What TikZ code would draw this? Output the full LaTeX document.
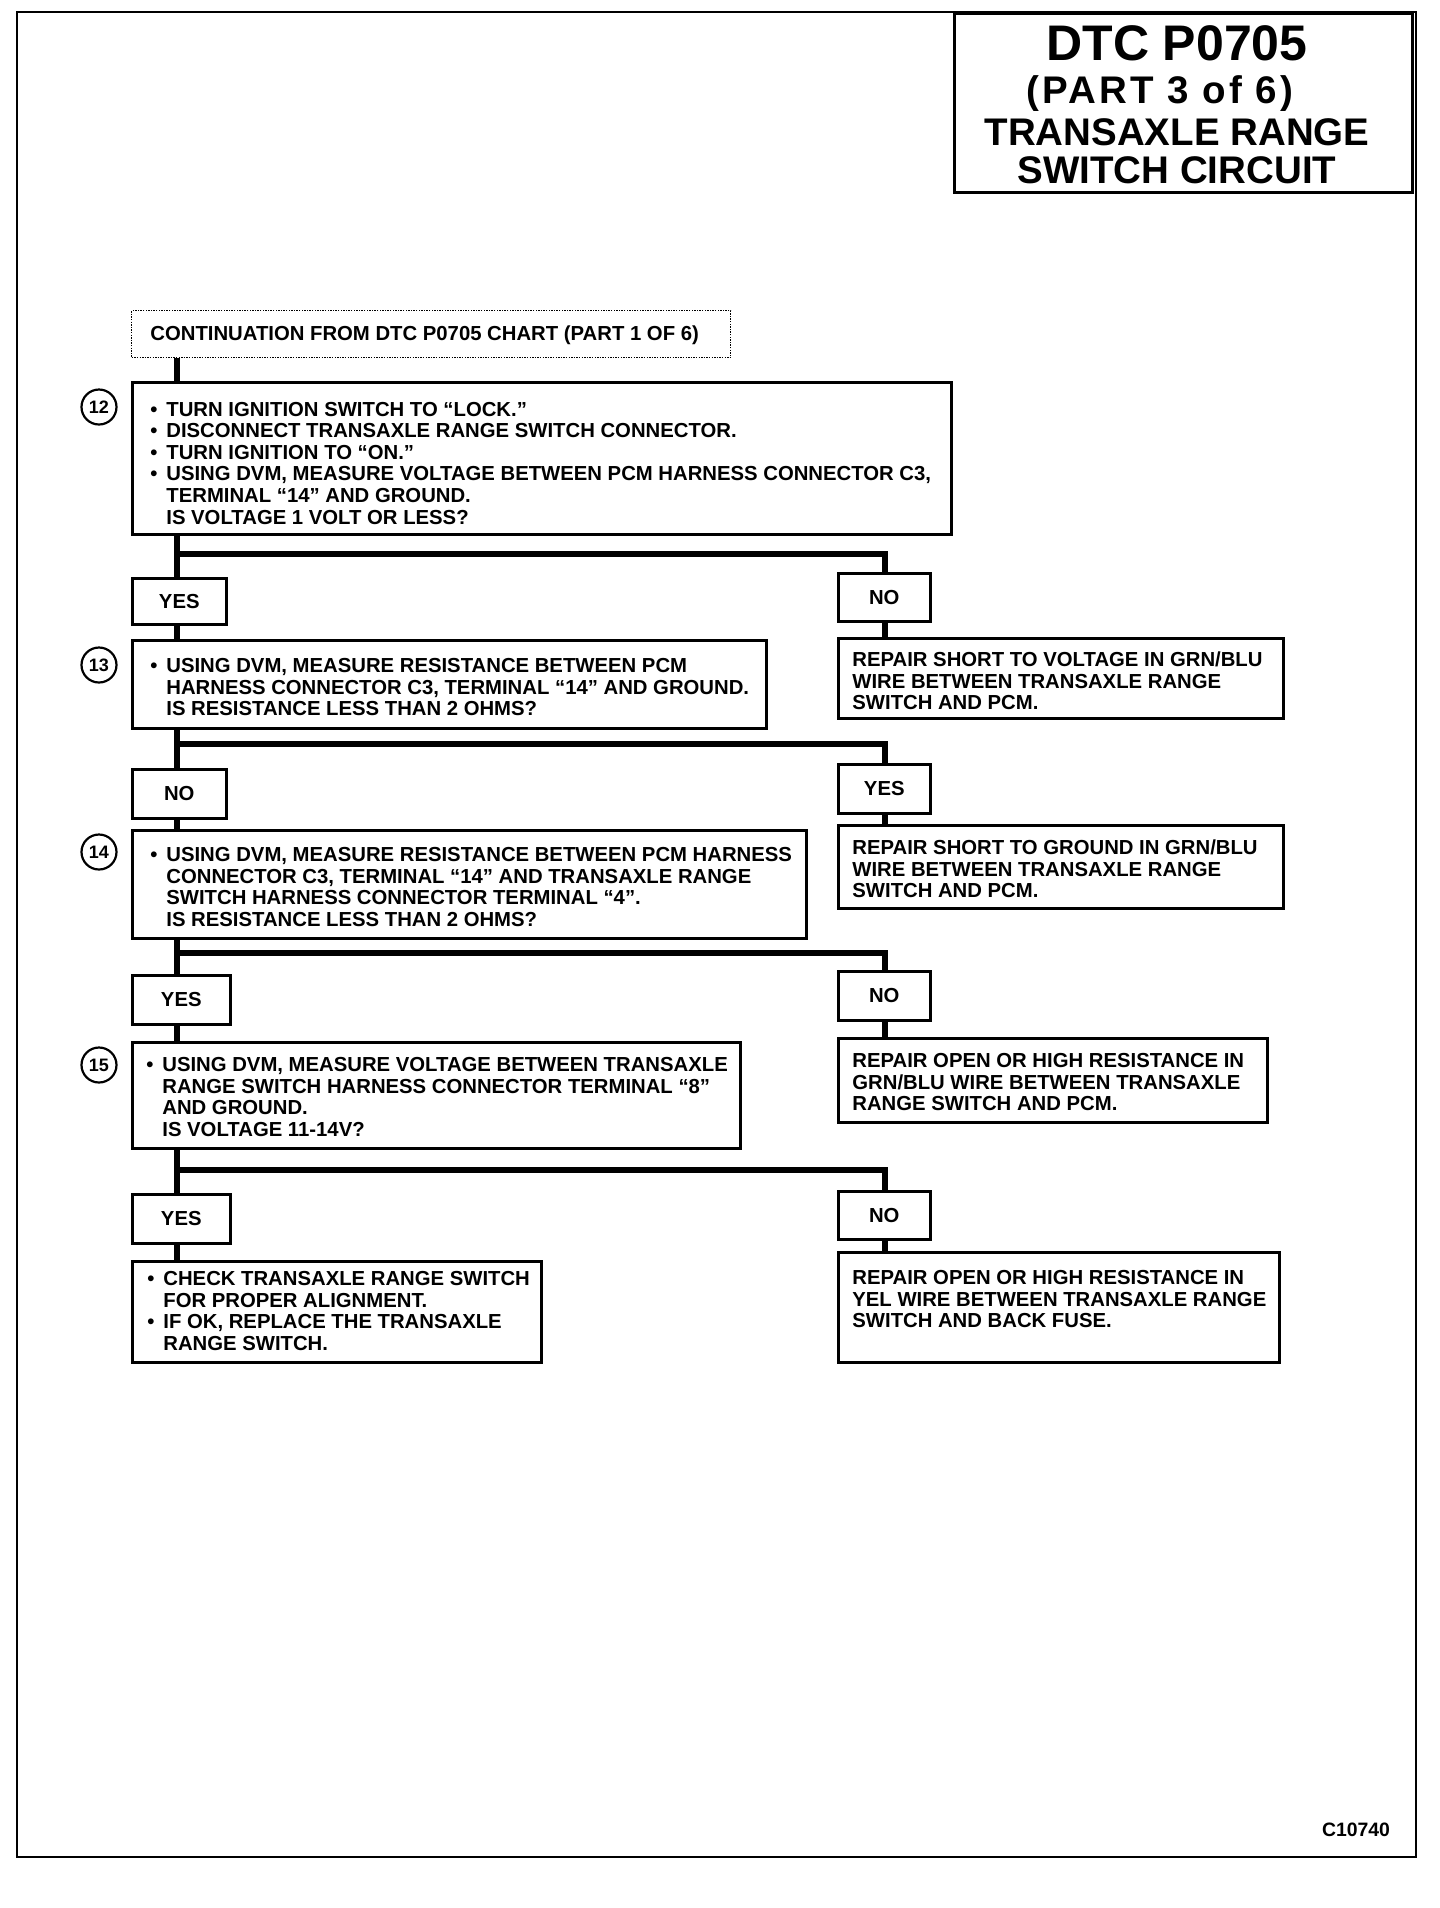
\documentclass[tikz,border=0pt]{standalone}
\usepackage{fontspec}
\setmainfont{Liberation Sans}
\newcommand\bl{\makebox[8pt][l]{\textbullet}}
\newcommand\hg{\hspace*{8pt}}
\begin{document}
\begin{tikzpicture}[x=0.5pt,y=-0.5pt,
  box/.style={draw, line width=1.3pt, rectangle, inner sep=0pt, anchor=north west},
  dotbox/.style={draw, line width=0.7pt, dash pattern=on 0.7pt off 0.6pt, rectangle, inner sep=0pt, anchor=north west},
  conn/.style={line width=3pt},
  txt/.style={anchor=west, align=left, inner sep=0pt, font=\bfseries\fontsize{10.15pt}{10.8pt}\selectfont},
  yn/.style={box, font=\bfseries\fontsize{10.15pt}{10.8pt}\selectfont},
  circ/.style={draw, circle, line width=1.1pt, minimum size=17.5pt, inner sep=0pt, font=\bfseries\fontsize{9pt}{9.5pt}\selectfont},
  ttl/.style={anchor=base, inner sep=0pt, font=\bfseries\fontsize{19.25pt}{20pt}\selectfont}]
\useasboundingbox (0,0) rectangle (1440,1908);
% page border and title
\draw[line width=1.3pt] (17,12) rectangle (1416,1857);
\node[box, minimum width=229pt, minimum height=89.5pt] (tbox) at (953,12) {};
\node[ttl, font=\bfseries\fontsize{25pt}{26pt}\selectfont] (t1) at (1177,60) {DTC P0705};
\node[ttl] (t2) at (1160,103) {\addfontfeature{LetterSpace=8}(PART 3 of 6)};
\node[ttl] (t3) at (1177,145) {TRANSAXLE RANGE};
\node[ttl] (t4) at (1177,183) {SWITCH CIRCUIT};
\node[anchor=base, inner sep=0pt, font=\bfseries\fontsize{9.7pt}{10pt}\selectfont] (code) at (1356,1836) {C10740};
% helper coordinates
\coordinate (mx) at (177,0);
\coordinate (rx) at (885,0);
% continuation
\node[dotbox, minimum width=299.5pt, minimum height=23.5pt] (cont) at (131,310) {};
\node[txt] (contt) at (150,335) {CONTINUATION FROM DTC P0705 CHART (PART 1 OF 6)};
% step 12
\node[box, minimum width=409.5pt, minimum height=76pt] (b12) at (131,381) {};
\node[txt] (b12t) at (150,463) {\bl TURN IGNITION SWITCH TO “LOCK.”\\
\bl DISCONNECT TRANSAXLE RANGE SWITCH CONNECTOR.\\
\bl TURN IGNITION TO “ON.”\\
\bl USING DVM, MEASURE VOLTAGE BETWEEN PCM HARNESS CONNECTOR C3,\\
\hg TERMINAL “14” AND GROUND.\\
\hg IS VOLTAGE 1 VOLT OR LESS?};
\node[circ] (c12) at (99,407) {12};
\node[yn, minimum width=47pt, minimum height=23pt] (yes1) at (131,577) {YES};
\node[yn, minimum width=46pt, minimum height=24pt] (no1) at (837,572) {NO};
\node[box, minimum width=222.5pt, minimum height=40pt] (r1) at (837,637) {};
\node[txt] (r1t) at (852,681) {REPAIR SHORT TO VOLTAGE IN GRN/BLU\\
WIRE BETWEEN TRANSAXLE RANGE\\
SWITCH AND PCM.};
% step 13
\node[box, minimum width=317pt, minimum height=44pt] (b13) at (131,639) {};
\node[txt] (b13t) at (150,687) {\bl USING DVM, MEASURE RESISTANCE BETWEEN PCM\\
\hg HARNESS CONNECTOR C3, TERMINAL “14” AND GROUND.\\
\hg IS RESISTANCE LESS THAN 2 OHMS?};
\node[circ] (c13) at (99,665) {13};
\node[yn, minimum width=47pt, minimum height=24.5pt] (no2) at (131,768) {NO};
\node[yn, minimum width=46pt, minimum height=24.5pt] (yes2) at (837,763) {YES};
\node[box, minimum width=222.5pt, minimum height=41.5pt] (r2) at (837,824) {};
\node[txt] (r2t) at (852,869) {REPAIR SHORT TO GROUND IN GRN/BLU\\
WIRE BETWEEN TRANSAXLE RANGE\\
SWITCH AND PCM.};
% step 14
\node[box, minimum width=337pt, minimum height=54pt] (b14) at (131,829) {};
\node[txt] (b14t) at (150,887) {\bl USING DVM, MEASURE RESISTANCE BETWEEN PCM HARNESS\\
\hg CONNECTOR C3, TERMINAL “14” AND TRANSAXLE RANGE\\
\hg SWITCH HARNESS CONNECTOR TERMINAL “4”.\\
\hg IS RESISTANCE LESS THAN 2 OHMS?};
\node[circ] (c14) at (99,852) {14};
\node[yn, minimum width=49pt, minimum height=24.5pt] (yes3) at (131,974) {YES};
\node[yn, minimum width=46pt, minimum height=24.5pt] (no3) at (837,970) {NO};
\node[box, minimum width=214.5pt, minimum height=42pt] (r3) at (837,1037) {};
\node[txt] (r3t) at (852,1082) {REPAIR OPEN OR HIGH RESISTANCE IN\\
GRN/BLU WIRE BETWEEN TRANSAXLE\\
RANGE SWITCH AND PCM.};
% step 15
\node[box, minimum width=304pt, minimum height=53pt] (b15) at (131,1041) {};
\node[txt] (b15t) at (146,1097) {\bl USING DVM, MEASURE VOLTAGE BETWEEN TRANSAXLE\\
\hg RANGE SWITCH HARNESS CONNECTOR TERMINAL “8”\\
\hg AND GROUND.\\
\hg IS VOLTAGE 11-14V?};
\node[circ] (c15) at (99,1065) {15};
\node[yn, minimum width=49pt, minimum height=24.5pt] (yes4) at (131,1193) {YES};
\node[yn, minimum width=46pt, minimum height=24pt] (no4) at (837,1190) {NO};
\node[box, minimum width=204.5pt, minimum height=50.5pt] (r4l) at (131,1260) {};
\node[txt] (r4lt) at (147,1311) {\bl CHECK TRANSAXLE RANGE SWITCH\\
\hg FOR PROPER ALIGNMENT.\\
\bl IF OK, REPLACE THE TRANSAXLE\\
\hg RANGE SWITCH.};
\node[box, minimum width=220.5pt, minimum height=55pt] (r4r) at (837,1251) {};
\node[txt] (r4rt) at (852,1299) {REPAIR OPEN OR HIGH RESISTANCE IN\\
YEL WIRE BETWEEN TRANSAXLE RANGE\\
SWITCH AND BACK FUSE.};
% connectors, main column
\draw[conn] (cont.south -| mx) -- (b12.north -| mx);
\draw[conn] (b12.south -| mx) -- (yes1.north -| mx);
\draw[conn] (yes1.south -| mx) -- (b13.north -| mx);
\draw[conn] (b13.south -| mx) -- (no2.north -| mx);
\draw[conn] (no2.south -| mx) -- (b14.north -| mx);
\draw[conn] (b14.south -| mx) -- (yes3.north -| mx);
\draw[conn] (yes3.south -| mx) -- (b15.north -| mx);
\draw[conn] (b15.south -| mx) -- (yes4.north -| mx);
\draw[conn] (yes4.south -| mx) -- (r4l.north -| mx);
% branches
\coordinate (j1) at (177,554);
\coordinate (j2) at (177,744);
\coordinate (j3) at (177,953);
\coordinate (j4) at (177,1170);
\draw[conn] (j1) -- (j1 -| rx) -- (no1.north -| rx);
\draw[conn] (no1.south -| rx) -- (r1.north -| rx);
\draw[conn] (j2) -- (j2 -| rx) -- (yes2.north -| rx);
\draw[conn] (yes2.south -| rx) -- (r2.north -| rx);
\draw[conn] (j3) -- (j3 -| rx) -- (no3.north -| rx);
\draw[conn] (no3.south -| rx) -- (r3.north -| rx);
\draw[conn] (j4) -- (j4 -| rx) -- (no4.north -| rx);
\draw[conn] (no4.south -| rx) -- (r4r.north -| rx);
\end{tikzpicture}
\end{document}
